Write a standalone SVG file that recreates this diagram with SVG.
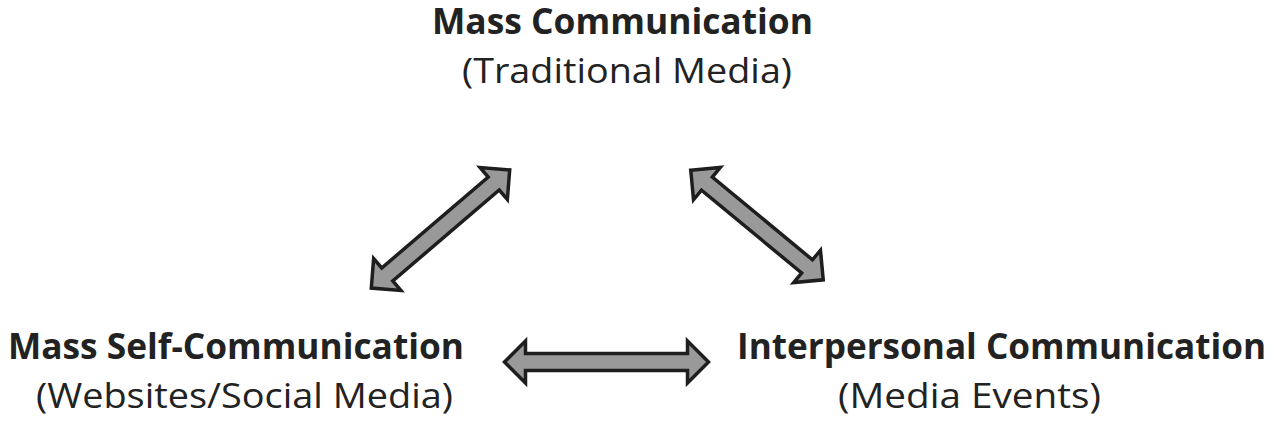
<svg xmlns="http://www.w3.org/2000/svg" width="1274" height="423" viewBox="0 0 1274 423">
<style>
.t{font-family:"Open Sans","Liberation Sans",sans-serif;font-size:35px;fill:#222}
.b{font-weight:bold}
.arr{fill:#999;stroke:#1e1e1e;stroke-width:3.5;stroke-linejoin:miter}
</style>
<rect width="1274" height="423" fill="#fff"/>
<g id="mass">
<text class="t b" x="432" y="34" textLength="381" lengthAdjust="spacingAndGlyphs">Mass Communication</text>
<text class="t" x="462" y="83" textLength="330" lengthAdjust="spacingAndGlyphs">(Traditional Media)</text>
</g>
<g id="self">
<text class="t b" x="8" y="359" textLength="456" lengthAdjust="spacingAndGlyphs">Mass Self-Communication</text>
<text class="t" x="36" y="408" textLength="417" lengthAdjust="spacingAndGlyphs">(Websites/Social Media)</text>
</g>
<g id="inter">
<text class="t b" x="737" y="359" textLength="529" lengthAdjust="spacingAndGlyphs">Interpersonal Communication</text>
<text class="t" x="838" y="408" textLength="263" lengthAdjust="spacingAndGlyphs">(Media Events)</text>
</g>
<g id="connectors">
<polygon class="arr" transform="translate(440.5,229) rotate(-40.5)" points="-91,0 -70,-21 -70,-8.5 70,-8.5 70,-21 91,0 70,21 70,8.5 -70,8.5 -70,21"/>
<polygon class="arr" transform="translate(757,225) rotate(39.6)" points="-86,0 -65,-21 -65,-8.5 65,-8.5 65,-21 86,0 65,21 65,8.5 -65,8.5 -65,21"/>
<polygon class="arr" transform="translate(606.5,362)" points="-102,0 -81,-21 -81,-8.5 81,-8.5 81,-21 102,0 81,21 81,8.5 -81,8.5 -81,21"/>
</g>
</svg>
